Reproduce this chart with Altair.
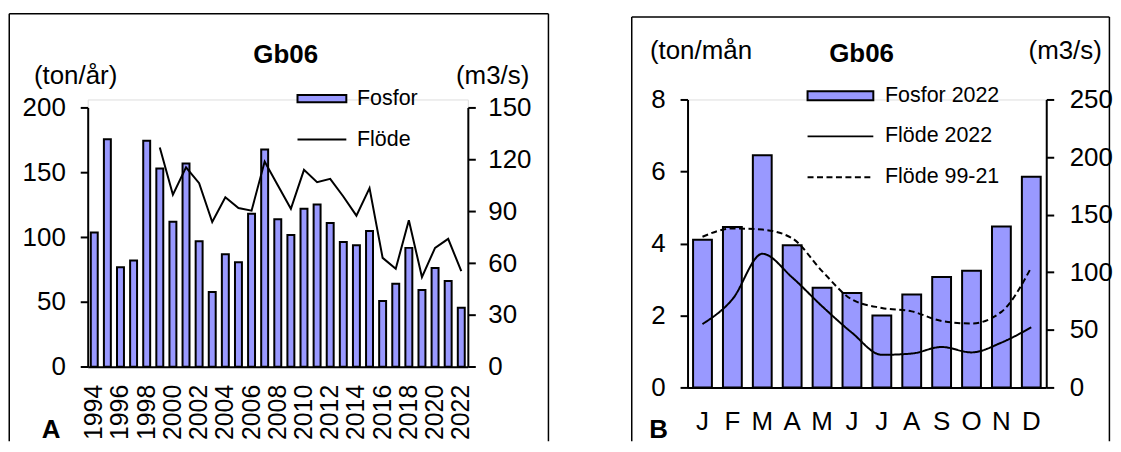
import altair as alt
import pandas as pd

FONT = "Liberation Sans"

# ---------------- data: panel A (yearly) ----------------
years = [str(y) for y in range(1994, 2023)]
fosfor_ar = [103.5, 175.4, 76.8, 82.0, 174.4, 152.9, 111.9, 156.7, 96.8, 57.6,
             86.8, 80.7, 118.1, 167.5, 113.7, 101.7, 121.9, 125.2, 110.9, 96.3,
             93.7, 104.7, 50.7, 64.0, 91.7, 59.2, 76.1, 66.1, 45.6]
flode_years = [str(y) for y in range(1999, 2023)]
flode_ar = [126.8, 99.5, 115.3, 106.2, 83.7, 98.0, 91.8, 90.3, 118.7, 105.0,
            91.4, 113.9, 106.8, 108.7, 98.5, 87.4, 103.3, 63.0, 56.7, 84.7,
            51.9, 68.8, 74.0, 55.3]
year_ticks = years[::2]
left_ticks_A = [0, 50, 100, 150, 200]
right_ticks_A = [0, 30, 60, 90, 120, 150]

# ---------------- data: panel B (monthly) ----------------
months = ["Jan", "Feb", "Mar", "Apr", "Maj", "Jun", "Jul", "Aug", "Sep", "Okt", "Nov", "Dec"]
fosfor_2022 = [4.10, 4.46, 6.45, 3.95, 2.77, 2.62, 2.00, 2.58, 3.07, 3.24, 4.47, 5.85]
flode_2022 = [55.0, 76.5, 116.0, 95.5, 70.5, 47.5, 28.3, 29.4, 35.1, 30.4, 38.9, 52.2]
flode_9921 = [130.8, 138.0, 137.0, 129.5, 101.0, 76.3, 69.0, 66.0, 57.7, 55.5, 65.6, 104.2]
left_ticks_B = [0, 2, 4, 6, 8]
right_ticks_B = [0, 50, 100, 150, 200, 250]

series_A = ["Fosfor", "Flöde"]
series_B = ["Fosfor 2022", "Flöde 2022", "Flöde 99-21"]
title_text = "Gb06"

BAR_FILL = "#9999ff"

# ---------------- layout (pixels) ----------------
WA, HA = 381.5, 268.3
WB, HB = 360, 289

one = pd.DataFrame({"k": [0]})

dfA_bar = pd.DataFrame({"year": years, "fosfor": fosfor_ar, "s": series_A[0]})
dfA_line = pd.DataFrame({"year": flode_years, "flode": flode_ar, "s": series_A[1]})

dfB_bar = pd.DataFrame({"month": months, "fosfor": fosfor_2022, "s": series_B[0]})
dfB_line = pd.concat([
    pd.DataFrame({"month": months, "flode": flode_2022, "s": series_B[1]}),
    pd.DataFrame({"month": months, "flode": flode_9921, "s": series_B[2]}),
], ignore_index=True)

axis_common = dict(domainColor="black", domainWidth=2, tickColor="black", tickWidth=2,
                   tickSize=7.5, labelColor="black", labelFont=FONT, grid=False,
                   titleFont=FONT, titleFontSize=26, titleFontWeight="normal",
                   titleColor="black", titleAngle=0, titleAlign="left",
                   titleBaseline="alphabetic")
axis_nt = {k: v for k, v in axis_common.items() if not k.startswith("title")}

FRAME_BOTTOM = 343

def frame(x0, x1, y0, y1):
    base = alt.Chart(one)
    top = base.mark_rule(color="black", strokeWidth=1.5).encode(
        x=alt.value(x0), x2=alt.value(x1), y=alt.value(y0))
    left = base.mark_rule(color="black", strokeWidth=1.5).encode(
        x=alt.value(x0), y=alt.value(y0), y2=alt.value(y1))
    right = base.mark_rule(color="black", strokeWidth=1.5).encode(
        x=alt.value(x1), y=alt.value(y0), y2=alt.value(y1))
    return [top, left, right]

def label_text(txt, x, y, size=26, bold=True):
    return alt.Chart(one).mark_text(
        text=txt, font=FONT, fontSize=size, fontWeight="bold" if bold else "normal",
        align="center", baseline="alphabetic", color="black"
    ).encode(x=alt.value(x), y=alt.value(y))

def legend(x, y, shape, offset, row_padding=18):
    return alt.Legend(orient="none", legendX=x, legendY=y, title=None,
                      symbolType=shape, symbolSize=100,
                      symbolStrokeColor="black", symbolStrokeWidth=2,
                      labelFont=FONT, labelFontSize=21.5, labelColor="black",
                      labelOffset=offset, padding=0, rowPadding=row_padding)

# ---------------- panel A ----------------
xA = alt.X("year:O",
           scale=alt.Scale(domain=years, paddingInner=0.47, paddingOuter=0.235),
           axis=alt.Axis(values=year_ticks, labelAngle=-90, ticks=False, labelPadding=17.5,
                         title=None, labelFontSize=25, labelOverlap=False, **axis_nt))

barsA = alt.Chart(dfA_bar).mark_bar(stroke="black", strokeWidth=2).encode(
    x=xA,
    y=alt.Y("fosfor:Q",
            scale=alt.Scale(domain=[0, 200], range=[HA, 8], nice=False),
            axis=alt.Axis(orient="left", values=left_ticks_A, labelFontSize=26, labelPadding=15,
                          title="(ton/år)", titleX=-54.5, titleY=-15.7, **axis_common)),
    fill=alt.Fill("s:N", scale=alt.Scale(domain=[series_A[0]], range=[BAR_FILL]),
                  legend=legend(224.3, -11.5, "M-4.9,-0.73H4.9V0.73H-4.9Z", 24.5)),
)

lineA = alt.Chart(dfA_line).mark_line(color="black", strokeWidth=2).encode(
    x=xA,
    y=alt.Y("flode:Q",
            scale=alt.Scale(domain=[0, 150], range=[HA, 8], nice=False),
            axis=alt.Axis(orient="right", values=right_ticks_A, labelFontSize=26, labelPadding=12.5,
                          title="(m3/s)", titleX=-12.4, titleY=-15.7, **axis_common)),
    stroke=alt.Stroke("s:N", scale=alt.Scale(domain=[series_A[1]], range=["black"]),
                      legend=legend(224.3, 29.5, "M-4.9,0H4.9", 24.5)),
)

panelA = alt.layer(
    barsA, lineA,
    *frame(-78.75, 462.4, -86, FRAME_BOTTOM),
    label_text(title_text, 198.7, -37),
    label_text("A", -36.7, 340),
).resolve_scale(y="independent").properties(width=WA, height=HA)

# ---------------- panel B ----------------
xB = alt.X("month:O",
           scale=alt.Scale(domain=months, paddingInner=0.37, paddingOuter=0.185),
           axis=alt.Axis(ticks=False, labelPadding=21.4, title=None, labelFontSize=26,
                         labelAngle=0, labelExpr="substring(datum.label, 0, 1)", **axis_nt))

barsB = alt.Chart(dfB_bar).mark_bar(stroke="black", strokeWidth=2).encode(
    x=xB,
    y=alt.Y("fosfor:Q",
            scale=alt.Scale(domain=[0, 8], nice=False),
            axis=alt.Axis(orient="left", values=left_ticks_B, labelFontSize=26, labelPadding=15,
                          title="(ton/mån", titleX=-38.3, titleY=-41.2, **axis_common)),
    fill=alt.Fill("s:N", scale=alt.Scale(domain=[series_B[0]], range=[BAR_FILL]),
                  legend=legend(142.7, -14.4, "M-6.6,-0.9H6.6V0.9H-6.6Z", 34)),
)

lineB = alt.Chart(dfB_line).mark_line(color="black", strokeWidth=2, interpolate="monotone").encode(
    x=xB,
    y=alt.Y("flode:Q",
            scale=alt.Scale(domain=[0, 250], nice=False),
            axis=alt.Axis(orient="right", values=right_ticks_B, labelFontSize=26, labelPadding=15.5,
                          title="(m3/s)", titleX=-18.3, titleY=-41.2, **axis_common)),
    strokeDash=alt.StrokeDash("s:N",
                              scale=alt.Scale(domain=series_B[1:], range=[[1, 0], [6, 3.5]]),
                              legend=legend(142.7, 26.3, "M-6.6,0H6.6", 34)),
)

panelB = alt.layer(
    barsB, lineB,
    *frame(-56, 423.4, -82.7, FRAME_BOTTOM),
    label_text(title_text, 174.7, -37.7),
    label_text("B", -29.1, 340),
).resolve_scale(y="independent").properties(width=WB, height=HB)

chart = alt.hconcat(panelA, panelB, spacing=80).resolve_scale(
    fill="independent", stroke="independent", strokeDash="independent"
).properties(
    padding={"left": 0, "top": 3, "right": 0, "bottom": 0}
).configure_view(stroke=None).configure(background="white")

chart.save("out.html", embed_options={"renderer": "svg", "actions": False})
